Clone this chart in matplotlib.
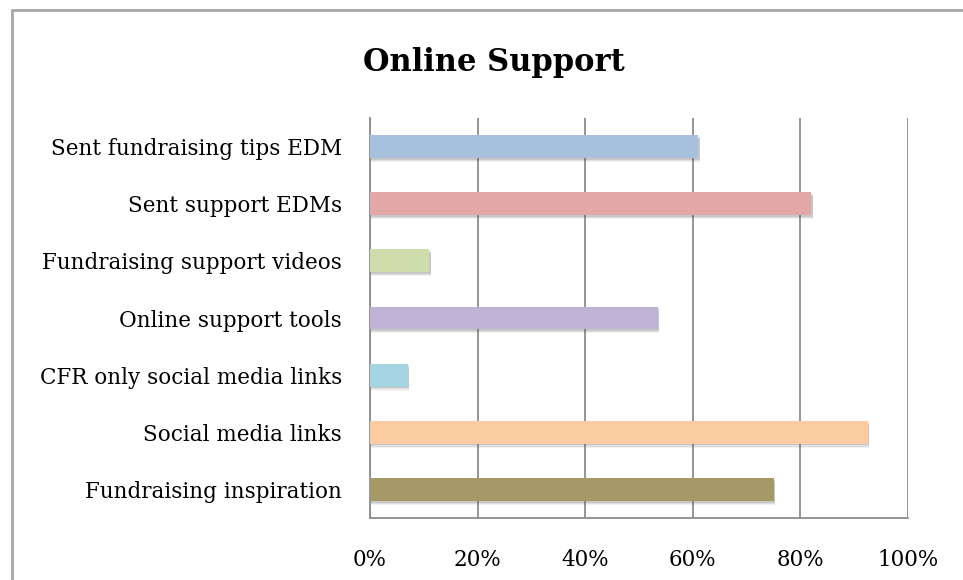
import matplotlib
matplotlib.use("Agg")
import matplotlib.pyplot as plt
from matplotlib.patches import Rectangle
from matplotlib.ticker import PercentFormatter

# top to bottom, as they appear in the chart
categories = ["Sent fundraising tips EDM", "Sent support EDMs", "Fundraising support videos",
              "Online support tools", "CFR only social media links", "Social media links",
              "Fundraising inspiration"]
values = [0.61, 0.82, 0.11, 0.535, 0.07, 0.925, 0.75]
colors = ["#A7C0DE", "#E1A8A7", "#CDDDAC", "#C0B2D5", "#A5D5E2", "#FBCBA2", "#A69968"]
xticks = [0, 0.2, 0.4, 0.6, 0.8, 1.0]

plt.rcParams["font.family"] = ["DejaVu Serif"]

fig = plt.figure(figsize=(9.63, 5.8), dpi=100)
fig.patches.append(Rectangle((12 / 963, -0.1), 1.2, 1 - 10 / 580 + 0.1, transform=fig.transFigure,
                             fill=False, edgecolor="#a6a6a6", lw=2, zorder=0))

ax = fig.add_axes([370 / 963, 1 - 518 / 580, 538 / 963, 400 / 580])
y = list(range(len(categories)))

# soft drop shadow under each bar
for dy, a in [(0.07, 0.08), (0.05, 0.12), (0.03, 0.16)]:
  ax.barh([i + dy for i in y], [v + 0.003 for v in values], height=0.4, color="#555555",
          alpha=a, lw=0, zorder=2)
ax.barh(y, values, height=0.4, color=colors, lw=0, zorder=3)

ax.set_ylim(len(categories) - 0.5, -0.5)
ax.set_xlim(0, 1.0)
ax.set_xticks(xticks)
ax.xaxis.set_major_formatter(PercentFormatter(1.0, decimals=0))
ax.set_yticks(y)
ax.set_yticklabels(categories)
ax.grid(axis="x", color="#8c8c8c", lw=1.3, zorder=1)
ax.tick_params(axis="both", length=0, labelsize=15.5, colors="#000000")
ax.tick_params(axis="x", pad=22)
ax.tick_params(axis="y", pad=20)
for s in ["top", "right"]:
  ax.spines[s].set_visible(False)
for s in ["left", "bottom"]:
  ax.spines[s].set_color("#8c8c8c")
  ax.spines[s].set_linewidth(1.3)

fig.text(494 / 963, 1 - 62 / 580, "Online Support", ha="center", va="center",
         fontsize=22, fontweight="bold")

fig.savefig("out.png", dpi=100)
